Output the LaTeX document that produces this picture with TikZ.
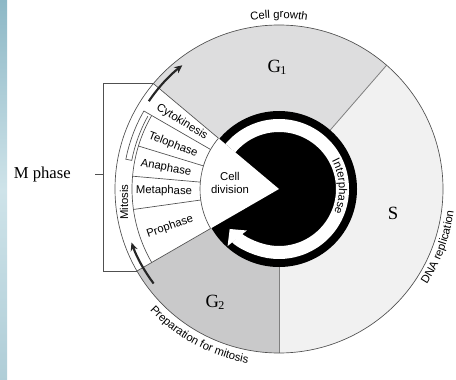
\documentclass[tikz,border=0pt]{standalone}
\usepackage{fontspec}
\setmainfont{Liberation Serif}
\setsansfont{Liberation Sans}
\usetikzlibrary{positioning,arrows.meta,decorations.text}

\definecolor{gonefill}{RGB}{221,221,222}
\definecolor{sfill}{RGB}{241,241,241}
\definecolor{gtwofill}{RGB}{201,201,202}
\definecolor{edgegray}{RGB}{80,80,80}
\definecolor{stripdark}{RGB}{141,184,198}
\definecolor{striplight}{RGB}{206,227,233}

\newcommand{\lblfont}{\sffamily\fontsize{8.5}{10}\selectfont}

\tikzset{
  phase/.style={font=\lblfont, inner sep=1pt},
  cyclelabel/.style={font=\fontsize{14}{16}\selectfont, inner sep=0pt},
  rim/.style={draw=edgegray, line width=0.5pt},
  cutline/.style={draw=gray, line width=0.6pt},
  turn/.style={draw=black!85, line width=1.6pt, -{Stealth[length=6pt,width=5.5pt]}},
}

\begin{document}
\begin{tikzpicture}[x=0.75pt,y=0.75pt]
\useasboundingbox (0,0) rectangle (456,379);
%side strip
\shade[top color=stripdark, bottom color=stripdark!70!white, middle color=striplight] (0,0) rectangle (7,379);

\begin{scope}[shift={(279,190)}]
%sectors G1, S, G2 and M
\fill[sfill] (0,0) circle[radius=164];
\fill[gonefill] (0,0) -- (49:164) arc[start angle=49, end angle=140, radius=164] -- cycle;
\fill[gtwofill] (0,0) -- (210:164) arc[start angle=210, end angle=270, radius=164] -- cycle;
\fill[white] (0,0) -- (140:164) arc[start angle=140, end angle=210, radius=164] -- cycle;
\draw[cutline] (49:78) -- (49:164);
\draw[cutline] (270:78) -- (270:164);
\draw[rim] (140:79) -- (140:164);
\draw[rim] (210:79) -- (210:164);
\draw[rim] (0,0) circle[radius=164];

%interphase ring with white arrow
\fill[black] (0,0) circle[radius=78];
\draw[white, line width=9.75pt, -{Triangle[length=9pt, width=18pt]}] (140:63.5) arc[start angle=140, end angle=-141, radius=63.5];

%cell division wedge
\fill[white] (0,0) -- (140:79) arc[start angle=140, end angle=210, radius=79] -- cycle;
\draw[rim] (140:79) arc[start angle=140, end angle=210, radius=79];

%phase boxes
\foreach \a in {150,163,175,188}
  \draw[rim] (\a:79) -- (\a:147);
\draw[rim] (150:147) arc[start angle=150, end angle=210, radius=147];
\draw[rim] (150:147) -- (150:156) arc[start angle=150, end angle=169, radius=156] -- (169:150) arc[start angle=169, end angle=151, radius=150];

%turning arrows
\draw[turn] (146:157) arc[start angle=146, end angle=128, radius=157];
\draw[turn] (217:157) arc[start angle=217, end angle=200, radius=157];

%M phase bracket
\coordinate (mtop) at (140:164);
\coordinate (mbot) at (210:164);
\coordinate (brk) at (-176,0);
\coordinate (tick) at (-176,15);
\draw[rim] (mtop) -- (mtop -| brk) -- (mbot -| brk) -- (mbot);
\draw[rim] (tick) -- ++(-8,0) coordinate (tickend);
\node[left=18pt of tickend, inner sep=0pt, font=\fontsize{12.5}{14}\selectfont] (mphase) {M phase};

% Text Node
\node[cyclelabel] (gone) at (-2,122) {G\kern-0.5pt\raisebox{-1.5pt}{\fontsize{9}{9}\selectfont 1}};
\node[cyclelabel] (sphase) at (114,-24) {S};
\node[cyclelabel] (gtwo) at (-64,-113) {G\kern-0.5pt\raisebox{-1.5pt}{\fontsize{9}{9}\selectfont 2}};
\node[phase, align=center] (celldiv) at (-49,6) {Cell\\division};
\node[phase, rotate=-32] (cyto) at (-97,67) {Cytokinesis};
\node[phase, rotate=-21] (telo) at (-106,44) {Telophase};
\node[phase, rotate=-10] (ana) at (-113,21) {Anaphase};
\node[phase, rotate=-1] (meta) at (-115,-2) {Metaphase};
\node[phase, rotate=19] (pro) at (-109,-38) {Prophase};
\node[phase, rotate=90] (mitosis) at (-155,-13) {Mitosis};

%curved labels
\path[decorate, decoration={text along path, text align=center, text={|\lblfont|Cell growth}}]
  (100:171) arc[start angle=100, end angle=80, radius=171];
\path[decorate, decoration={text along path, text align=center, text={|\lblfont|DNA replication}}]
  (-40:176) arc[start angle=-40, end angle=0, radius=176];
\path[decorate, decoration={text along path, text align=center, text={|\lblfont|Preparation for mitosis}}]
  (215:177) arc[start angle=215, end angle=268, radius=177];
\path[decorate, decoration={text along path, text align=center, text={|\lblfont|Interphase}}]
  (30:60) arc[start angle=30, end angle=-25, radius=60];
\end{scope}
\end{tikzpicture}
\end{document}
